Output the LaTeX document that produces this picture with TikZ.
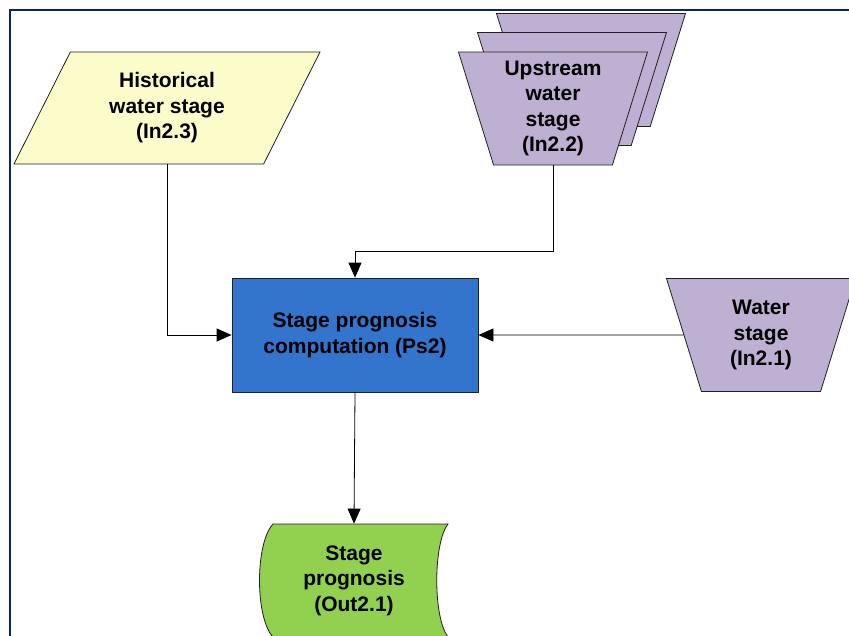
\documentclass[tikz,border=0pt]{standalone}
\usepackage{fontspec}
\setmainfont{Liberation Sans}
\usepackage{tikz}
\usetikzlibrary{arrows.meta, positioning, calc, shapes.geometric}
\usepackage{xcolor}
\definecolor{jaune}{RGB}{252,252,202}
\definecolor{lavande}{RGB}{190,176,210}
\definecolor{bleu}{RGB}{51,116,204}
\definecolor{vert}{RGB}{146,208,80}
\definecolor{marine}{RGB}{12,36,104}
\tikzset{
    fleche/.style={-{Triangle[length=15pt, width=13pt]}, line width=0.8pt, black},
    boite/.style={draw=gray!25!black, line width=0.8pt, align=center, inner xsep=0pt,
        font=\fontsize{21}{25.5}\selectfont\bfseries},
    historique/.style={boite, trapezium, trapezium left angle=63, trapezium right angle=117,
        trapezium stretches body, inner ysep=20pt, minimum width=306pt, minimum height=112pt, fill=jaune},
    entree/.style={boite, trapezium, trapezium angle=72.5, trapezium stretches body,
        shape border rotate=180, minimum width=189pt, minimum height=113pt, fill=lavande},
    calcul/.style={boite, rectangle, minimum width=246pt, minimum height=114pt, fill=bleu},
    sortie/.style={draw=gray!25!black, line width=0.8pt, fill=vert},
    cadre/.style={draw=marine, line width=2.5pt},
}
\begin{document}
\begin{tikzpicture}[x=1pt, y=-1pt]
\useasboundingbox (0,0) rectangle (849,635);
\clip (0,0) rectangle (849,635);
\draw[cadre] (10,10) rectangle (900,700);
% entrees
\node[historique] (hist) at (167,108) {Historical\\water stage\\(In2.3)};
\node[entree, inner ysep=56pt] (up3) at (591,70) {};
\node[entree, inner ysep=56pt] (up2) at (572,89) {};
\node[entree, inner ysep=8pt] (up1) at (553,108.5) {Upstream\\water\\stage\\(In2.2)};
\node[entree, inner ysep=20.5pt] (water) at (761,335) {Water\\stage\\(In2.1)};
% calcul
\node[calcul] (calc) at (355,335) {Stage prognosis\\computation (Ps2)};
% sortie
\coordinate (o) at (354,580.5);
\draw[sortie, shift={(o)}] (-81,-56.5) .. controls (-99,-37) and (-99,37) .. (-81,56.5)
    -- (94,56.5) .. controls (79,37) and (79,-37) .. (94,-56.5) -- cycle;
\node[boite, draw=none, minimum width=175pt, minimum height=113pt] (out) at (o) {Stage\\prognosis\\(Out2.1)};
% liaisons
\draw[fleche] (hist.south) |- (calc.west);
\draw[fleche] (up1.south) -- ++(0,86) -| (calc.north);
\draw[fleche] (water) -- (calc);
\draw[fleche] (calc.south) -- (out.north);
\end{tikzpicture}
\end{document}
